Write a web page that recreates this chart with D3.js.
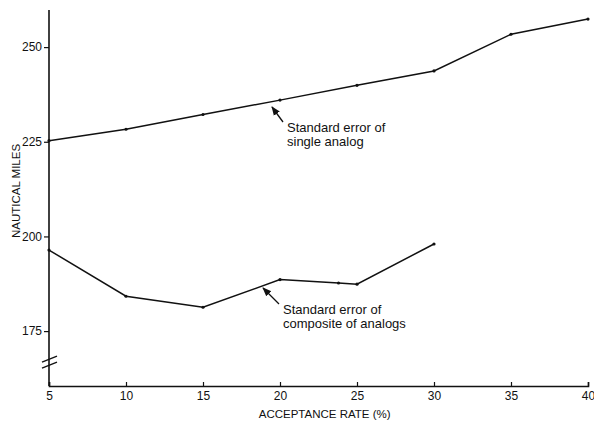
<!DOCTYPE html>
<html>
<head>
<meta charset="utf-8">
<script src="https://cdn.jsdelivr.net/npm/d3@7"></script>
<style>
  body { margin: 0; background: #fff; }
  svg { font-family: 'Liberation Sans', Arial, sans-serif; }
</style>
</head>
<body>
<script>
'use strict'

var rates       = [5, 10, 15, 20, 25, 30, 35, 40]
var singleErr   = [225.3, 228.3, 232.2, 236.0, 239.9, 243.7, 253.4, 257.4]
var compRates   = [5, 10, 15, 20, 23.8, 25, 30]
var compErr     = [196.4, 184.2, 181.3, 188.6, 187.7, 187.4, 198.0]
var xTicks      = [5, 10, 15, 20, 25, 30, 35, 40]
var yTicks      = [175, 200, 225, 250]

var W = 594, H = 424

var svg = d3.select('body').append('svg')
  .attr('width', W)
  .attr('height', H)

var x = d3.scaleLinear().domain([5, 40]).range([49, 588])
var y = d3.scaleLinear().domain([160.5, 259.8]).range([386, 10])

var ink = '#111'

// y axis
var yAxis = svg.append('g')
  .attr('transform', 'translate(' + x(5) + ',0)')
  .call(d3.axisLeft(y).tickValues(yTicks).tickSize(5).tickPadding(2))
yAxis.select('.domain').remove()
yAxis.selectAll('line').attr('stroke', ink).attr('stroke-width', 1.2)
yAxis.selectAll('text').attr('font-size', 12).attr('fill', ink)

svg.append('line')
  .attr('x1', x(5)).attr('x2', x(5))
  .attr('y1', y.range()[1]).attr('y2', y.range()[0])
  .attr('stroke', ink).attr('stroke-width', 1.6)

// axis break marks
var breakY = y(166.8)
;[-3, 3].forEach(function (off) {
  svg.append('line')
    .attr('x1', x(5) - 7).attr('y1', breakY + off + 3)
    .attr('x2', x(5) + 8).attr('y2', breakY + off - 3)
    .attr('stroke', ink).attr('stroke-width', 1.4)
})

// x axis
var xAxis = svg.append('g')
  .attr('transform', 'translate(0,' + y(160.5) + ')')
  .call(d3.axisBottom(x).tickValues(xTicks).tickSize(-4).tickPadding(5))
xAxis.select('.domain').attr('stroke', ink).attr('stroke-width', 1.6)
xAxis.selectAll('line').attr('stroke', ink).attr('stroke-width', 1.2)
xAxis.selectAll('text').attr('font-size', 12).attr('fill', ink)

// titles
svg.append('text')
  .attr('transform', 'translate(20,' + y(212) + ') rotate(-90)')
  .attr('text-anchor', 'middle')
  .attr('font-size', 11.5)
  .attr('fill', ink)
  .text('NAUTICAL MILES')

svg.append('text')
  .attr('x', x(22.9)).attr('y', 418)
  .attr('text-anchor', 'middle')
  .attr('font-size', 11.5)
  .attr('fill', ink)
  .text('ACCEPTANCE RATE (%)')

// series
var line = d3.line()
  .x(function (d) { return x(d[0]) })
  .y(function (d) { return y(d[1]) })

var series = [
  d3.zip(rates, singleErr),
  d3.zip(compRates, compErr)
]

series.forEach(function (pts) {
  svg.append('path')
    .datum(pts)
    .attr('d', line)
    .attr('fill', 'none')
    .attr('stroke', ink)
    .attr('stroke-width', 1.5)
  svg.selectAll(null)
    .data(pts)
    .enter().append('circle')
    .attr('cx', function (d) { return x(d[0]) })
    .attr('cy', function (d) { return y(d[1]) })
    .attr('r', 1.6)
    .attr('fill', ink)
})

// annotations
svg.append('defs').append('marker')
  .attr('id', 'arr')
  .attr('viewBox', '0 0 10 10')
  .attr('refX', 9).attr('refY', 5)
  .attr('markerWidth', 7).attr('markerHeight', 7)
  .attr('orient', 'auto')
  .append('path')
  .attr('d', 'M0,1 L10,5 L0,9 Z')
  .attr('fill', ink)

var notes = [
  { ax: 283, ay: 122, tx: 272, ty: 107, x: 287, y: 132, lines: ['Standard error of', 'single analog'] },
  { ax: 279, ay: 304, tx: 263, ty: 288, x: 283, y: 314, lines: ['Standard error of', 'composite of analogs'] }
]

notes.forEach(function (n) {
  svg.append('line')
    .attr('x1', n.ax).attr('y1', n.ay)
    .attr('x2', n.tx).attr('y2', n.ty)
    .attr('stroke', ink).attr('stroke-width', 1.3)
    .attr('marker-end', 'url(#arr)')
  var t = svg.append('text')
    .attr('x', n.x).attr('y', n.y)
    .attr('font-size', 13)
    .attr('fill', ink)
  n.lines.forEach(function (s, i) {
    t.append('tspan').attr('x', n.x).attr('dy', i ? 13.5 : 0).text(s)
  })
})
</script>
</body>
</html>
